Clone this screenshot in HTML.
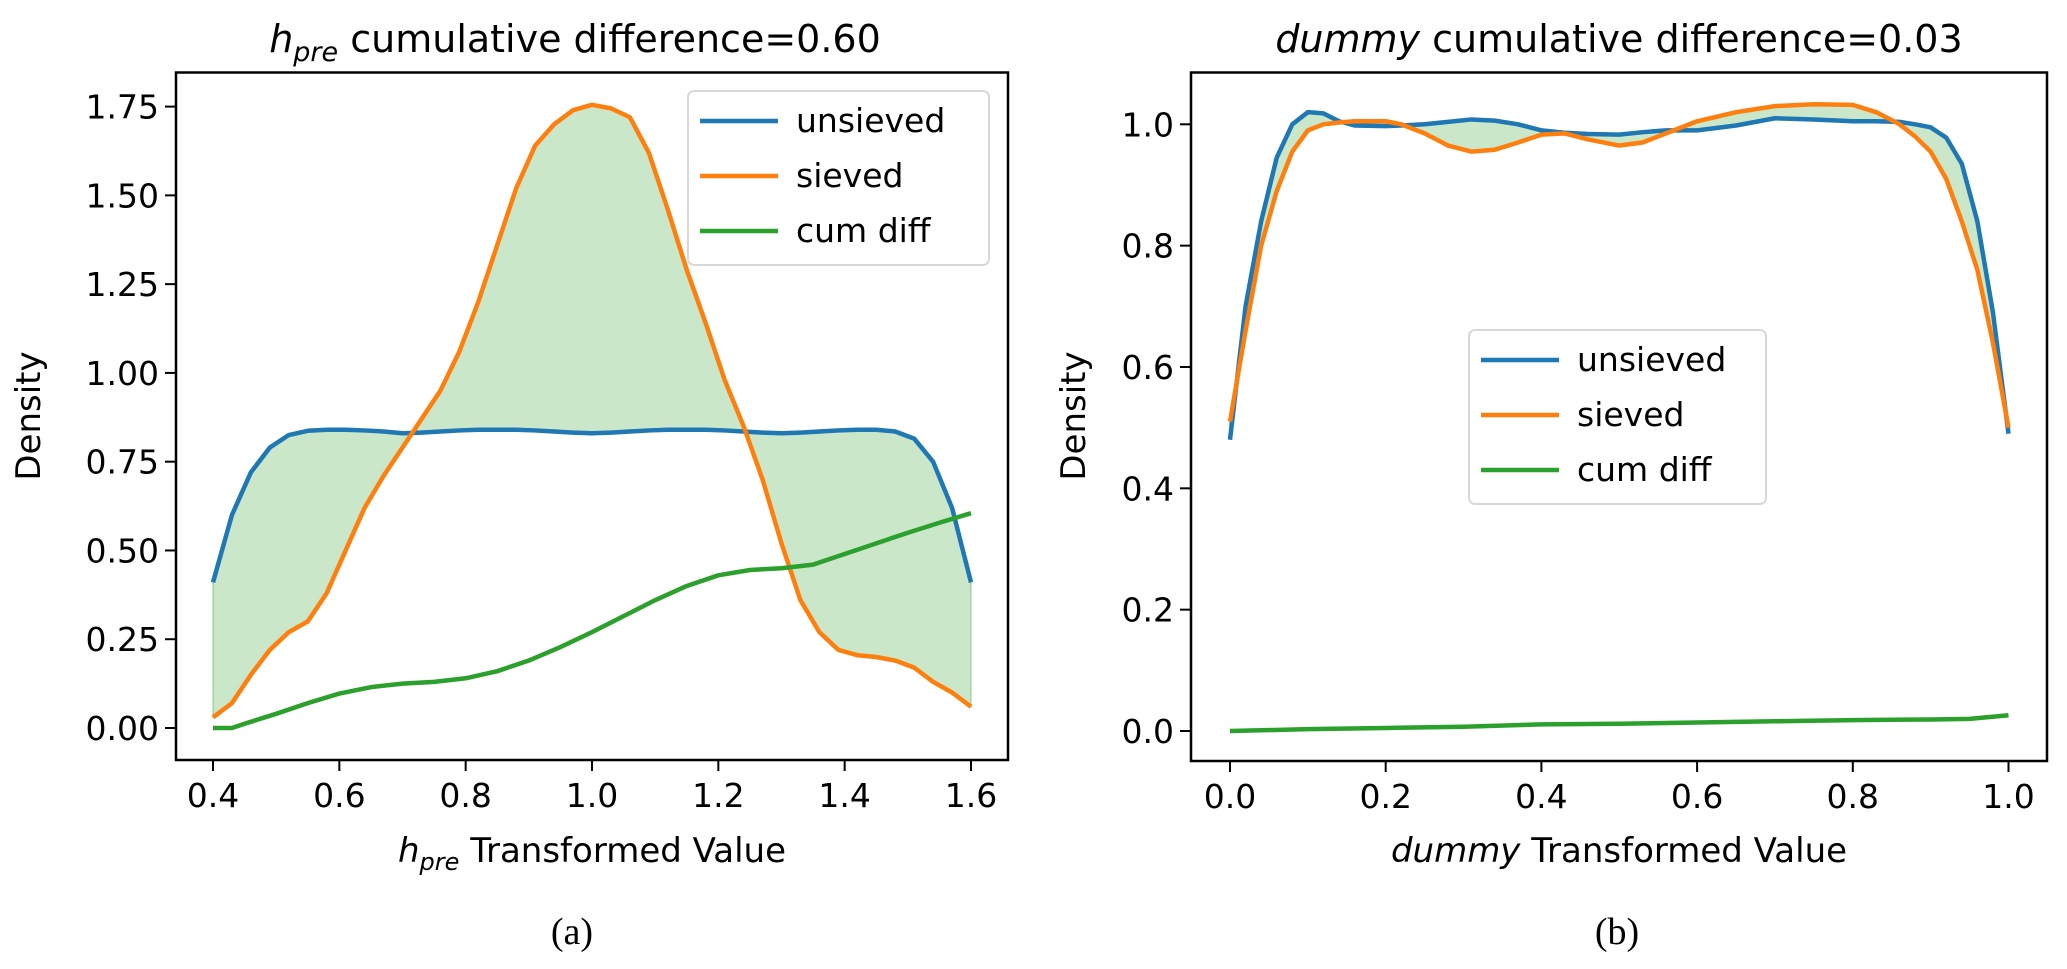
<!DOCTYPE html>
<html><head><meta charset="utf-8">
<style>
html,body{margin:0;padding:0;background:#fff;}
svg{display:block;font-family:"DejaVu Sans","Liberation Sans",sans-serif;}
</style></head>
<body>
<svg id="fig" width="2067" height="969" viewBox="0 0 2067 969" xmlns="http://www.w3.org/2000/svg">
  <text x="575" y="52" font-size="38" text-anchor="middle"><tspan font-style="italic">h</tspan><tspan font-style="italic" font-size="27" dy="9">pre</tspan><tspan dy="-9"> cumulative difference=0.60</tspan></text>
  <text x="1619" y="52" font-size="38" text-anchor="middle"><tspan font-style="italic">dummy</tspan> cumulative difference=0.03</text>
  <text x="592" y="862" font-size="34" text-anchor="middle"><tspan font-style="italic">h</tspan><tspan font-style="italic" font-size="24" dy="8">pre</tspan><tspan dy="-8"> Transformed Value</tspan></text>
  <text x="1619" y="862" font-size="34" text-anchor="middle"><tspan font-style="italic">dummy</tspan> Transformed Value</text>
  <text transform="translate(40,416) rotate(-90)" font-size="34" text-anchor="middle">Density</text>
  <text transform="translate(1085,416) rotate(-90)" font-size="34" text-anchor="middle">Density</text>
  <text x="572" y="944" font-size="38" text-anchor="middle" font-family="Liberation Serif, serif">(a)</text>
  <text x="1617" y="944" font-size="38" text-anchor="middle" font-family="Liberation Serif, serif">(b)</text>
</svg>
<script>
const leftX=[0.40,0.43,0.46,0.49,0.52,0.55,0.58,0.61,0.64,0.67,0.70,0.73,0.76,0.79,0.82,0.85,0.88,0.91,0.94,0.97,1.00,1.03,1.06,1.09,1.12,1.15,1.18,1.21,1.24,1.27,1.30,1.33,1.36,1.39,1.42,1.45,1.48,1.51,1.54,1.57,1.60];
const leftUnsieved=[0.41,0.60,0.72,0.79,0.825,0.837,0.84,0.84,0.838,0.835,0.83,0.832,0.835,0.838,0.84,0.84,0.84,0.838,0.835,0.832,0.83,0.832,0.835,0.838,0.84,0.84,0.84,0.838,0.835,0.832,0.83,0.832,0.835,0.838,0.84,0.84,0.835,0.815,0.75,0.62,0.41];
const leftSieved=[0.03,0.07,0.15,0.22,0.27,0.30,0.38,0.50,0.62,0.71,0.79,0.87,0.95,1.06,1.20,1.36,1.52,1.64,1.70,1.74,1.755,1.745,1.72,1.62,1.46,1.29,1.14,0.98,0.85,0.70,0.52,0.36,0.27,0.22,0.205,0.20,0.19,0.17,0.13,0.10,0.06];
const leftCumX=[0.40,0.43,0.45,0.50,0.55,0.60,0.65,0.70,0.75,0.80,0.85,0.90,0.95,1.00,1.05,1.10,1.15,1.20,1.25,1.30,1.35,1.40,1.45,1.50,1.55,1.60];
const leftCum=[0,0,0.012,0.04,0.07,0.097,0.115,0.125,0.13,0.14,0.16,0.19,0.228,0.27,0.315,0.36,0.40,0.43,0.445,0.45,0.46,0.49,0.52,0.55,0.578,0.605];
const leftXTicks=[0.4,0.6,0.8,1.0,1.2,1.4,1.6];
const leftYTicks=[0,0.25,0.5,0.75,1.0,1.25,1.5,1.75];
const leftYTickLabels=["0.00","0.25","0.50","0.75","1.00","1.25","1.50","1.75"];

const rightX=[0,0.02,0.04,0.06,0.08,0.10,0.12,0.14,0.16,0.20,0.22,0.25,0.28,0.31,0.34,0.37,0.40,0.43,0.46,0.50,0.53,0.56,0.60,0.65,0.70,0.75,0.80,0.83,0.86,0.88,0.90,0.92,0.94,0.96,0.98,1.0];
const rightUnsieved=[0.48,0.70,0.84,0.945,1.0,1.02,1.018,1.005,0.998,0.997,0.998,1.0,1.004,1.008,1.006,1.0,0.99,0.986,0.984,0.983,0.987,0.99,0.99,0.998,1.01,1.008,1.005,1.005,1.004,1.0,0.995,0.978,0.935,0.84,0.69,0.49];
const rightSieved=[0.51,0.66,0.80,0.89,0.955,0.99,1.0,1.003,1.005,1.005,1.0,0.985,0.965,0.955,0.958,0.97,0.983,0.985,0.975,0.965,0.97,0.985,1.005,1.02,1.03,1.033,1.032,1.02,1.0,0.98,0.955,0.91,0.84,0.76,0.64,0.50];
const rightCumX=[0,0.1,0.2,0.3,0.4,0.5,0.6,0.7,0.8,0.9,0.95,1.0];
const rightCum=[0,0.003,0.005,0.007,0.011,0.012,0.014,0.016,0.018,0.019,0.02,0.026];
const rightXTicks=[0,0.2,0.4,0.6,0.8,1.0];
const rightYTicks=[0,0.2,0.4,0.6,0.8,1.0];

const NS="http://www.w3.org/2000/svg";
const svg=document.getElementById('fig');
function mk(tag,attrs){const e=document.createElementNS(NS,tag);for(const k in attrs)e.setAttribute(k,attrs[k]);svg.appendChild(e);return e;}

function drawChart(cfg){
  const sx=v=>cfg.x0px+(v-cfg.x0)/(cfg.x1-cfg.x0)*(cfg.x1px-cfg.x0px);
  const sy=v=>cfg.y0px+(v-cfg.y0)/(cfg.y1-cfg.y0)*(cfg.y1px-cfg.y0px);
  let pts=cfg.xs.map((x,i)=>sx(x)+','+sy(cfg.a[i]));
  pts=pts.concat(cfg.xs.slice().reverse().map((x,j)=>{const i=cfg.xs.length-1-j;return sx(x)+','+sy(cfg.b[i]);}));
  const f=mk('polygon',{points:pts.join(' '),fill:'#2ca02c','fill-opacity':'0.25',stroke:'#2ca02c','stroke-opacity':'0.25','stroke-width':'2'});
  
  
  const line=(xs,ys,color,name)=>{
    const l=mk('polyline',{points:xs.map((x,i)=>sx(x)+','+sy(ys[i])).join(' '),fill:'none',stroke:color,'stroke-width':'4.5','stroke-linejoin':'round'});
    
    
  };
  line(cfg.xs,cfg.a,'#1f77b4',cfg.p+'-unsieved-line');
  line(cfg.xs,cfg.b,'#ff7f0e',cfg.p+'-sieved-line');
  line(cfg.cx,cfg.cy,'#2ca02c',cfg.p+'-cum-diff-line');
  const fr=mk('rect',{x:cfg.L,y:cfg.T,width:cfg.R-cfg.L,height:cfg.B-cfg.T,fill:'none',stroke:'#000','stroke-width':'2.5'});
  
  
  cfg.xt.forEach(v=>{
    const X=sx(v);
    const t=mk('line',{x1:X,x2:X,y1:cfg.B,y2:cfg.B+11,stroke:'#000','stroke-width':'2'});
    
    
    const tx=mk('text',{x:X,y:cfg.B+47,'font-size':'33','text-anchor':'middle'});
    tx.textContent=v.toFixed(1);
    
    
  });
  cfg.yt.forEach((v,i)=>{
    const Y=sy(v);
    const t=mk('line',{x1:cfg.L-11,x2:cfg.L,y1:Y,y2:Y,stroke:'#000','stroke-width':'2'});
    
    
    const tx=mk('text',{x:cfg.L-17,y:Y+12,'font-size':'33','text-anchor':'end'});
    tx.textContent=cfg.ytl?cfg.ytl[i]:v.toFixed(1);
    
    
  });
  const lg=cfg.lg;
  const box=mk('rect',{x:lg.x,y:lg.y,width:lg.w,height:lg.h,rx:6,fill:'#fff','fill-opacity':'0.8',stroke:'#d8d8d8','stroke-width':'2'});
  
  
  [['unsieved','#1f77b4'],['sieved','#ff7f0e'],['cum diff','#2ca02c']].forEach((e,i)=>{
    const Y=lg.y+30+i*55;
    const l=mk('line',{x1:lg.x+12,x2:lg.x+90,y1:Y,y2:Y,stroke:e[1],'stroke-width':'4.5'});
    
    
    const t=mk('text',{x:lg.x+108,y:Y+11,'font-size':'33'});
    t.textContent=e[0];
    
    
  });
}
drawChart({p:'left',x0:0.4,x1:1.6,x0px:213,x1px:971,y0:0,y1:1.75,y0px:728,y1px:106.6,L:176,R:1008,T:72.5,B:760,
  xs:leftX,a:leftUnsieved,b:leftSieved,cx:leftCumX,cy:leftCum,xt:leftXTicks,yt:leftYTicks,ytl:leftYTickLabels,
  lg:{x:688,y:91,w:301,h:174}});
drawChart({p:'right',x0:0,x1:1,x0px:1230,x1px:2008.5,y0:0,y1:1.0,y0px:731,y1px:124.3,L:1191,R:2047,T:72.5,B:761,
  xs:rightX,a:rightUnsieved,b:rightSieved,cx:rightCumX,cy:rightCum,xt:rightXTicks,yt:rightYTicks,
  lg:{x:1469,y:330,w:297,h:174}});
</script>
</body></html>
